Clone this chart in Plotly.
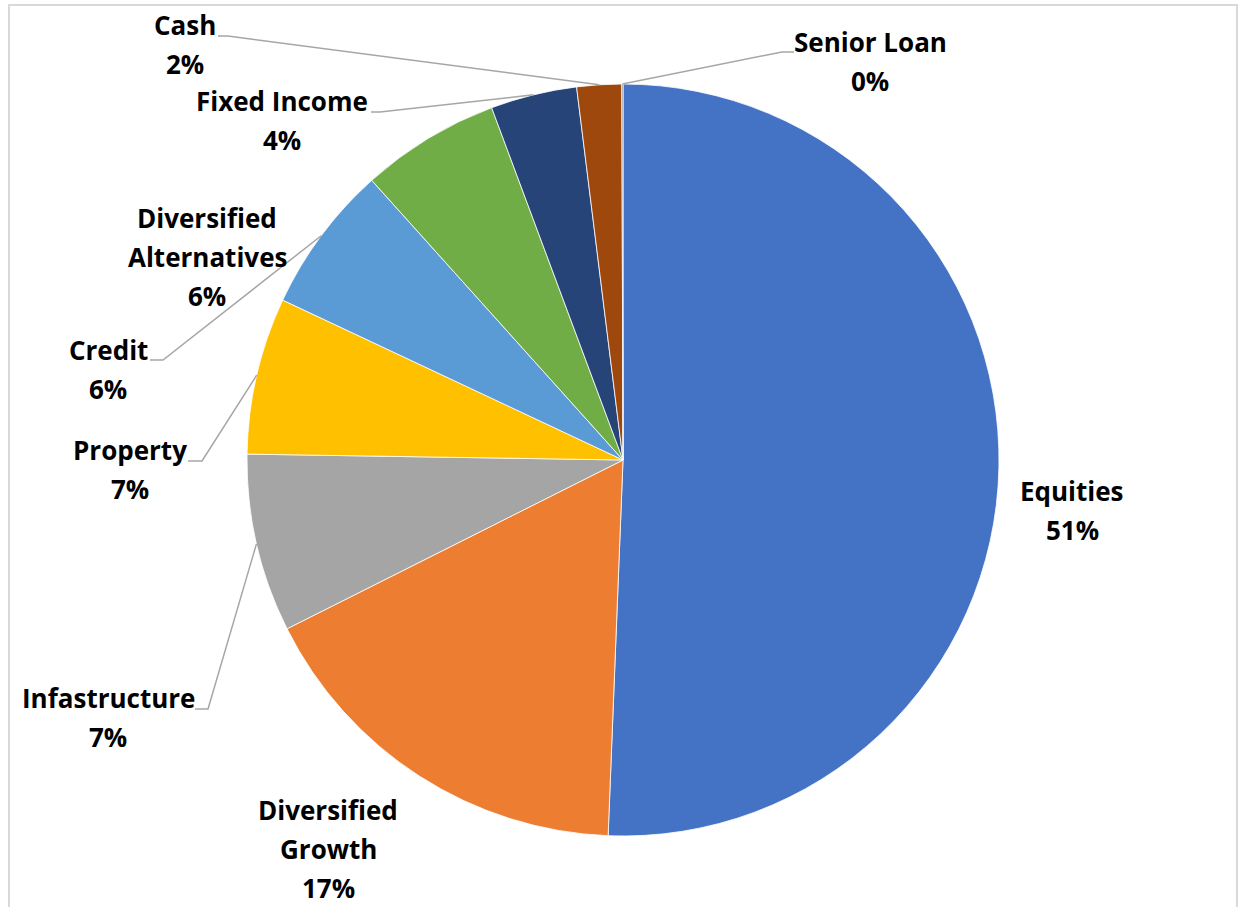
import math
import plotly.graph_objects as go

# ---- data ----
labels = ["Equities", "Diversified Growth", "Infastructure", "Property", "Credit",
          "Diversified Alternatives", "Fixed Income", "Cash", "Senior Loan"]
values = [50.63, 16.96, 7.66, 6.74, 6.36, 5.97, 3.71, 1.92, 0.05]
pct_text = ["51%", "17%", "7%", "7%", "6%", "6%", "4%", "2%", "0%"]
label_lines = [["Equities"], ["Diversified", "Growth"], ["Infastructure"], ["Property"],
               ["Credit"], ["Diversified", "Alternatives"], ["Fixed Income"], ["Cash"], ["Senior Loan"]]
colors = ["#4472C4", "#ED7D31", "#A5A5A5", "#FFC000", "#5B9BD5",
          "#70AD47", "#264478", "#9E480E", "#636363"]

# ---- layout (pixels) ----
W, H = 1243, 907
CX, CY, R = 623, 460, 376
LINE_GAP = 39.0
FONT = dict(family="Open Sans", size=26, color="#000000")

# label text: centre x, centre y of first line
label_pos = {
    "Equities": (1072, 491),
    "Diversified Growth": (328, 810),
    "Infastructure": (108, 698),
    "Property": (130, 450),
    "Credit": (108, 350),
    "Diversified Alternatives": (207, 218),
    "Fixed Income": (282, 101),
    "Cash": (185, 25),
    "Senior Loan": (870, 42),
}
# leader lines: (start point, elbow point) ; ends at slice mid-angle on rim
leaders = {
    "Infastructure": ((195, 709), (208, 709)),
    "Property": ((188, 461), (202, 461)),
    "Credit": ((150, 360), (163, 360)),
    "Fixed Income": ((371, 112), (380, 112)),
    "Cash": ((218, 36), (228, 36)),
    "Senior Loan": ((794, 52), (782, 52)),
}


def px(x):
    return x / W


def py(y):
    return 1 - y / H


fig = go.Figure(go.Pie(
    labels=labels, values=values, sort=False, direction="clockwise", rotation=0,
    marker=dict(colors=colors, line=dict(color="#FFFFFF", width=0.8)),
    textinfo="none", hoverinfo="label+percent", showlegend=False,
    domain=dict(x=[px(CX - R), px(CX + R)], y=[py(CY + R), py(CY - R)]),
))

total = sum(values)
cum = 0.0
shapes = []
annotations = []
for name, v, pct, lines in zip(labels, values, pct_text, label_lines):
    mid = (cum + v / 2) / total * 2 * math.pi
    cum += v
    rx = CX + R * math.sin(mid)
    ry = CY - R * math.cos(mid)
    if name in leaders:
        (sx, sy), (ex, ey) = leaders[name]
        path = "M {:.5f},{:.5f} L {:.5f},{:.5f} L {:.5f},{:.5f}".format(
            px(sx), py(sy), px(ex), py(ey), px(rx), py(ry))
        shapes.append(dict(type="path", xref="paper", yref="paper", path=path,
                           line=dict(color="#A6A6A6", width=1.5)))
    lx, ly = label_pos[name]
    for i, t in enumerate(lines + [pct]):
        annotations.append(dict(
            x=px(lx), y=py(ly + i * LINE_GAP), xref="paper", yref="paper",
            text="<b>" + t + "</b>", showarrow=False, xanchor="center", yanchor="middle",
            font=FONT))

# outer frame
shapes.append(dict(type="rect", xref="paper", yref="paper",
                   x0=px(9), x1=px(1237), y0=py(920), y1=py(5),
                   line=dict(color="#D9D9D9", width=2), fillcolor="rgba(0,0,0,0)", layer="below"))

fig.update_layout(
    width=W, height=H, margin=dict(l=0, r=0, t=0, b=0),
    paper_bgcolor="#FFFFFF", plot_bgcolor="#FFFFFF",
    shapes=shapes, annotations=annotations,
)

fig.write_html("out.html")
